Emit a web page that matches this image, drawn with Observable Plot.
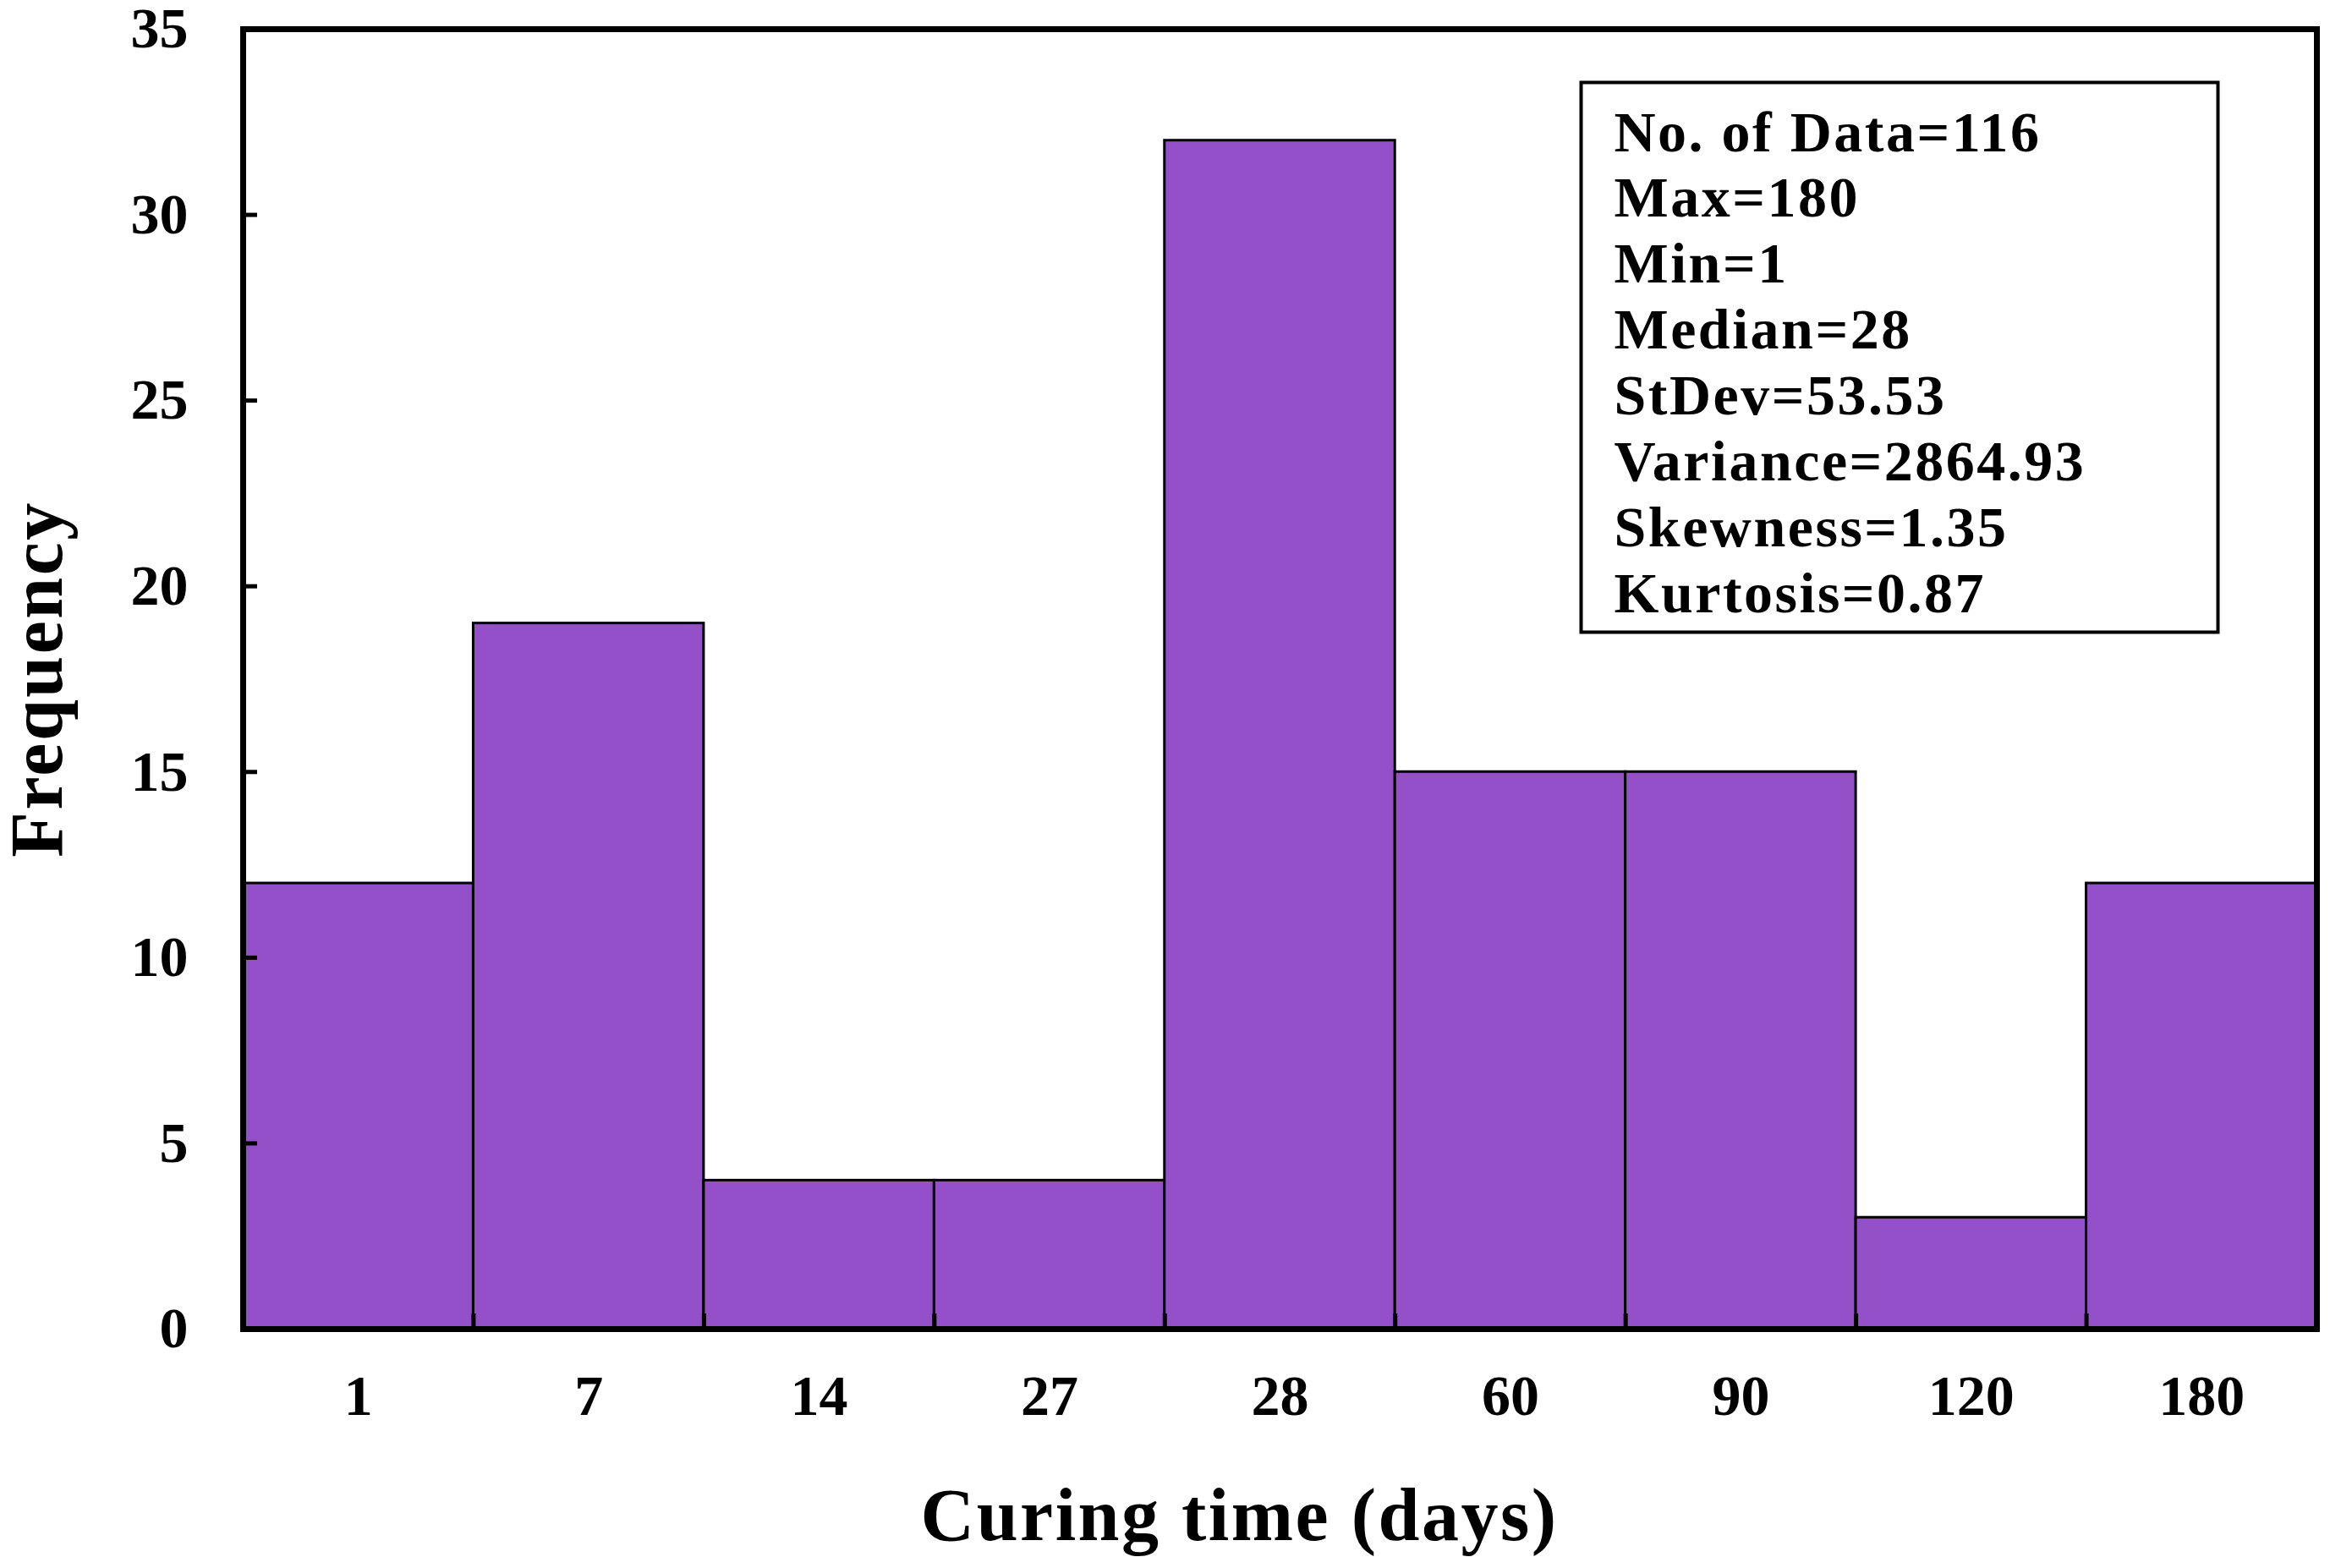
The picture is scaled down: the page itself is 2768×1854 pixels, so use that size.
<!DOCTYPE html>
<html>
<head>
<meta charset="utf-8">
<script src="https://cdn.jsdelivr.net/npm/d3@7"></script>
<script src="https://cdn.jsdelivr.net/npm/@observablehq/plot@0.6"></script>
<style>
  html, body { margin: 0; padding: 0; background: #ffffff; }
  #chart { width: 2768px; height: 1854px; }
</style>
</head>
<body>
<div id="chart"></div>
<script>
// ---- data ----
const categories = ["1", "7", "14", "27", "28", "60", "90", "120", "180"];
const frequency = [12, 19, 4, 4, 32, 15, 15, 3, 12];
const yTickValues = [0, 5, 10, 15, 20, 25, 30, 35];
const statsLines = [
  "No. of Data=116",
  "Max=180",
  "Min=1",
  "Median=28",
  "StDev=53.53",
  "Variance=2864.93",
  "Skewness=1.35",
  "Kurtosis=0.87"
];
const xTitle = "Curing time (days)";
const yTitle = "Frequency";

// ---- layout ----
const W = 2768, H = 1854;
const mL = 287, mR = 29, mT = 34, mB = 283;
const innerW = W - mL - mR, innerH = H - mT - mB;
const barColor = "#9450C8";

const bins = categories.map((c, i) => ({cat: c, i, freq: frequency[i]}));
const centers = categories.map((_, i) => i + 0.5);
const boundaries = d3.range(0, categories.length + 1);

const chart = Plot.plot({
  width: W,
  height: H,
  marginLeft: mL,
  marginRight: mR,
  marginTop: mT,
  marginBottom: mB,
  style: {fontFamily: "'Liberation Serif', 'Times New Roman', serif", fontWeight: "bold", color: "black", background: "white"},
  x: {type: "linear", domain: [0, categories.length]},
  y: {domain: [0, 35]},
  marks: [
    Plot.rectY(bins, {x1: d => d.i, x2: d => d.i + 1, y1: 0, y2: "freq", fill: barColor, stroke: "black", strokeWidth: 3}),
    Plot.axisX({ticks: centers, tickFormat: d => categories[Math.floor(d)], tickSize: 0, tickPadding: 53, fontSize: 68, fontWeight: "bold", label: null}),
    Plot.axisY({ticks: yTickValues, tickSize: 0, tickPadding: 65, fontSize: 68, fontWeight: "bold", label: null}),
    Plot.tickY(yTickValues, {y: d => d, insetRight: innerW - 17, stroke: "black", strokeWidth: 5}),
    Plot.tickX(boundaries, {x: d => d, insetTop: innerH - 18, stroke: "black", strokeWidth: 5}),
    Plot.frame({stroke: "black", strokeWidth: 7}),
    // statistics box
    Plot.frame({fill: "white", stroke: "black", strokeWidth: 4,
      insetLeft: 1869 - mL, insetTop: 97 - mT, insetRight: (W - mR) - 2622, insetBottom: (H - mB) - 747}),
    Plot.text([statsLines.join("\n")], {frameAnchor: "top-left", textAnchor: "start", lineAnchor: "top",
      lineHeight: 78 / 68, dx: 1908 - mL, dy: 178 - 0.71 * 78 - mT, fontSize: 68, fontWeight: "bold", fill: "black"}),
    // axis titles
    Plot.text([xTitle], {frameAnchor: "bottom", textAnchor: "middle", lineAnchor: "bottom", dx: -48, dy: 1820 - (H - mB), fontSize: 88, fontWeight: "bold", fill: "black"}),
    Plot.text([yTitle], {frameAnchor: "left", textAnchor: "middle", lineAnchor: "bottom", rotate: -90, dx: 72 - mL, fontSize: 88, fontWeight: "bold", fill: "black"})
  ]
});

d3.select(chart).selectAll('g[aria-label="text"] text').style("letter-spacing", "2.5px");
document.getElementById("chart").appendChild(chart);
</script>
</body>
</html>
